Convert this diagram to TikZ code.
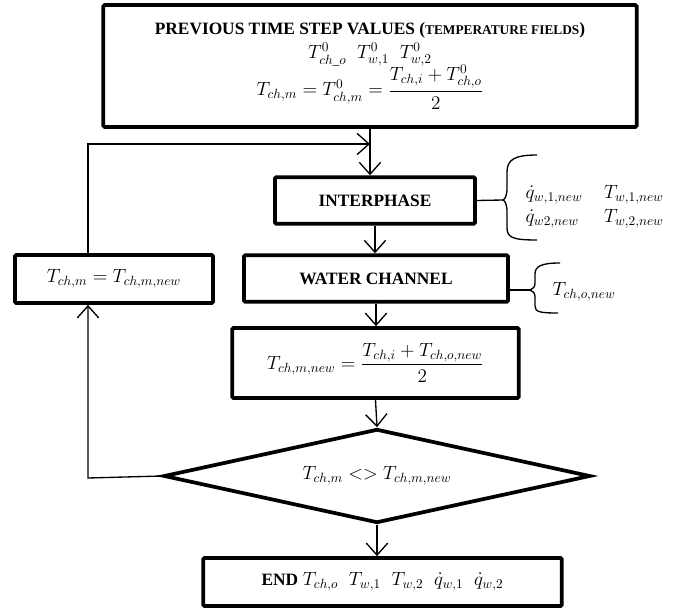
\documentclass[tikz,border=0pt,12pt]{standalone}
\usepackage{fontspec}
\setmainfont{Liberation Serif}
\usepackage{amsmath}
\usetikzlibrary{arrows.meta, positioning, shapes.geometric}

\begin{document}
\begin{tikzpicture}[
      x=0.75pt, y=-0.75pt,
      stepbox/.style={draw, line width=2.8pt, rounded corners=1pt, align=center, inner sep=2pt},
      decision/.style={draw, diamond, aspect=4.5, line width=2.8pt, inner sep=1pt},
      arrow/.style={-{Straight Barb[length=9pt, width=16pt]}, line width=1pt},
      link/.style={line width=1pt},
      curly/.style={line width=1pt},
      every node/.style={font=\large}
      ]
    \useasboundingbox (0,0) rectangle (688,609);

    % Nodes
    \node[stepbox, minimum width=400pt, minimum height=91.5pt] (prev) at (370,66)
      {{\fontsize{13}{15}\selectfont\bfseries PREVIOUS TIME STEP VALUES (}{\fontsize{10}{12}\selectfont\bfseries TEMPERATURE FIELDS}{\fontsize{13}{15}\selectfont\bfseries )}\\[0pt]
       $T^0_{ch\_o}\;\;T^0_{w,1}\;\;T^0_{w,2}$\\[-2pt]
       $T_{ch,m} = T^0_{ch,m} = \dfrac{T_{ch,i} + T^0_{ch,o}}{2}$};
    \node[stepbox, minimum width=150pt, minimum height=35pt] (inter) at (375,200.5) {\fontsize{13}{15}\selectfont\bfseries INTERPHASE};
    \node[stepbox, minimum width=198pt, minimum height=35pt] (water) at (376,278.5) {\fontsize{13}{15}\selectfont\bfseries WATER CHANNEL};
    \node[stepbox, minimum width=215pt, minimum height=52.5pt] (mean) at (375.5,363)
      {$T_{ch,m,new} = \dfrac{T_{ch,i} + T_{ch,o,new}}{2}$};
    \node[decision, minimum width=320pt, minimum height=70.5pt] (check) at (377,476)
      {$T_{ch,m} \mathrel{<>} T_{ch,m,new}$};
    \node[stepbox, minimum width=148.5pt, minimum height=36pt] (upd) at (114,279)
      {$T_{ch,m} = T_{ch,m,new}$};
    \node[stepbox, minimum width=269pt, minimum height=36pt] (fin) at (382.5,582)
      {{\fontsize{13}{15}\selectfont\bfseries END} $T_{ch,o}\;\;T_{w,1}\;\;T_{w,2}\;\;\dot q_{w,1}\;\;\dot q_{w,2}$};

    % Outputs
    \node[anchor=west] (intout) at (520,206)
      {$\begin{array}{@{}l@{\hspace{16pt}}l@{}}
        \dot q_{w,1,new} & T_{w,1,new}\\[0pt]
        \dot q_{w2,new} & T_{w,2,new}
       \end{array}$};
    \node[anchor=west] (chout) at (547,292) {$T_{ch,o,new}$};

    % Loop corners and brace tips
    \coordinate (loopa) at (88,478);
    \coordinate (loopb) at (88,144);
    \coordinate (intcusp) at (503,200);
    \coordinate (chcusp) at (530,290);

    % Arrows
    \draw[arrow] (prev.south) -- (prev.south |- inter.north);
    \draw[arrow] (inter.south) -- (inter.south |- water.north);
    \draw[arrow] (water.south) -- (water.south |- mean.north);
    \draw[arrow] (mean.south) -- (check.north);
    \draw[arrow] (check.south) -- (check.south |- fin.north);
    \draw[arrow] (check.west) -- (loopa) -- (loopa |- upd.south);
    \draw[arrow] (loopa |- upd.north) -- (loopb) -- (prev.south |- loopb);

    % Braces
    \draw[link] (inter.east) -- (intcusp);
    \draw[curly] (537,155) .. controls (514,155) and (507,160) .. (507,172) -- (507,188)
      .. controls (507,196) and (505,199) .. (intcusp)
      .. controls (505,201) and (507,204) .. (507,212) -- (507,228)
      .. controls (507,238) and (514,240) .. (537,240);
    \draw[link] (water.east |- chcusp) -- (chcusp);
    \draw[curly] (560,263) .. controls (542,263) and (535,266) .. (535,274) -- (535,283)
      .. controls (535,287) and (533,289) .. (chcusp)
      .. controls (533,291) and (535,293) .. (535,297) -- (535,306)
      .. controls (535,312) and (540,313) .. (558,313);

\end{tikzpicture}
\end{document}
